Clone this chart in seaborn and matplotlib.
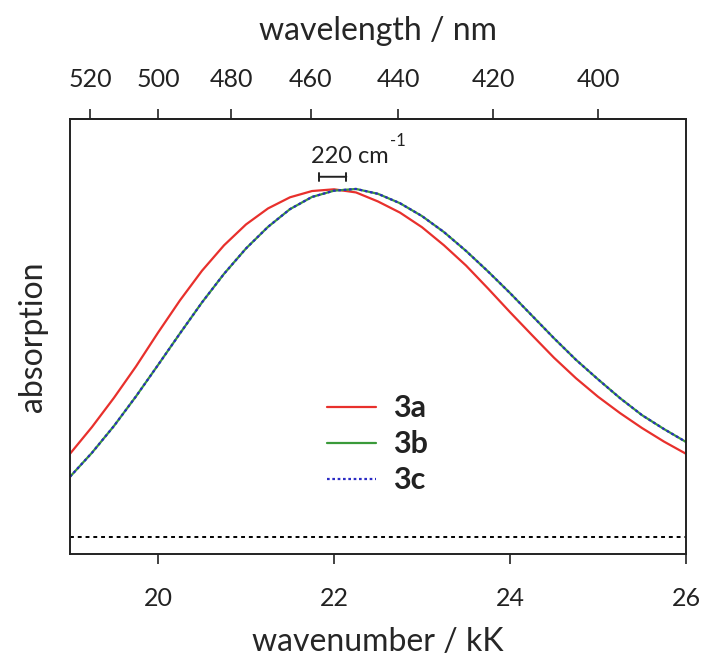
import matplotlib
matplotlib.use("Agg")
import matplotlib.pyplot as plt
import seaborn as sns
import pandas as pd

# wavenumber (kK) and relative absorption
wavenumber = [19.00, 19.25, 19.50, 19.75, 20.00, 20.25, 20.50, 20.75, 21.00, 21.25,
              21.50, 21.75, 22.00, 22.25, 22.50, 22.75, 23.00, 23.25, 23.50, 23.75,
              24.00, 24.25, 24.50, 24.75, 25.00, 25.25, 25.50, 25.75, 26.00]
abs_3a = [0.239, 0.316, 0.400, 0.490, 0.587, 0.680, 0.765, 0.838, 0.898, 0.944,
          0.976, 0.994, 0.999, 0.990, 0.964, 0.932, 0.890, 0.838, 0.780, 0.714,
          0.646, 0.580, 0.515, 0.456, 0.403, 0.356, 0.313, 0.274, 0.239]
abs_3b = [0.173, 0.242, 0.319, 0.404, 0.494, 0.585, 0.674, 0.756, 0.829, 0.891,
          0.942, 0.977, 0.995, 1.000, 0.986, 0.959, 0.922, 0.876, 0.822, 0.763,
          0.701, 0.636, 0.571, 0.509, 0.453, 0.399, 0.350, 0.310, 0.273]
abs_3c = [0.173, 0.242, 0.319, 0.404, 0.494, 0.585, 0.674, 0.756, 0.829, 0.891,
          0.942, 0.977, 0.995, 1.000, 0.986, 0.959, 0.922, 0.876, 0.822, 0.763,
          0.701, 0.636, 0.571, 0.509, 0.453, 0.399, 0.350, 0.310, 0.273]

series_names = ["3a", "3b", "3c"]
wl_ticks = [520, 500, 480, 460, 440, 420, 400]
x_ticks = [20, 22, 24, 26]
shift_label = "220 cm"
shift_sup = "-1"
shift_bar = [21.83, 22.14]

sns.set_theme(style="white")
plt.rcParams["font.family"] = ["Lato", "DejaVu Sans"]

fig = plt.figure(figsize=(7.04, 6.66), dpi=100)
ax = fig.add_axes([70/704, 112/666, 616/704, 435/666])

df = pd.DataFrame({"x": wavenumber, "3a": abs_3a, "3b": abs_3b, "3c": abs_3c})

sns.lineplot(data=df, x="x", y="3a", ax=ax, color="#e8302c", lw=1.6,
             label=series_names[0])
sns.lineplot(data=df, x="x", y="3b", ax=ax, color="#3a9a3a", lw=1.6,
             label=series_names[1])
sns.lineplot(data=df, x="x", y="3c", ax=ax, color="#2b2bc4", lw=1.6,
             ls=(0, (1.2, 1.2)), label=series_names[2])

# baseline
ax.axhline(0, color="black", lw=1.4, ls=(0, (2, 2)))

ax.set_xlim(19, 26)
ax.set_ylim(-0.049, 1.201)
ax.set_xticks(x_ticks)
ax.set_yticks([])
ax.set_xlabel("wavenumber / kK", fontsize=23, labelpad=12)
ax.set_ylabel("absorption", fontsize=23, labelpad=16)
ax.tick_params(axis="x", direction="out", length=7, width=1.2, labelsize=18,
               bottom=True, pad=17, colors="#222222")
for s in ax.spines.values():
    s.set_color("#222222")
    s.set_linewidth(1.4)

sec = ax.secondary_xaxis("top", functions=(lambda v: 1e4 / v, lambda v: 1e4 / v))
sec.set_xticks(wl_ticks)
sec.tick_params(axis="x", direction="out", length=7, width=1.2, labelsize=18,
                pad=13, colors="#222222")
sec.set_xlabel("wavelength / nm", fontsize=23, labelpad=20)

# 220 cm-1 marker
ax.annotate("", xy=(shift_bar[0], 1.035), xytext=(shift_bar[1], 1.035),
            arrowprops=dict(arrowstyle="|-|", lw=1.4, color="#222222",
                            mutation_scale=3, shrinkA=0, shrinkB=0))
t = ax.text(21.74, 1.063, shift_label, fontsize=17, ha="left", va="bottom",
            color="#222222")
ax.annotate(shift_sup, xy=(1.0, 0.85), xycoords=t, fontsize=12, ha="left",
            va="bottom", color="#222222", xytext=(1, 0), textcoords="offset points")

leg = ax.legend(loc="upper left", bbox_to_anchor=(0.418, 0.367), frameon=False,
                prop={"weight": "bold", "size": 22}, handlelength=1.6,
                labelspacing=0.26, handletextpad=0.55, borderpad=0,
                borderaxespad=0)
for txt in leg.get_texts():
    txt.set_color("#222222")

fig.savefig("out.png", dpi=100)
